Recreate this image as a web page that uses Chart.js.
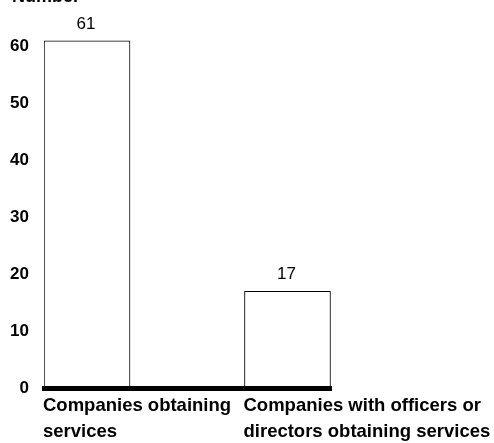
<!DOCTYPE html>
<html lang="en">
<head>
    <meta charset="UTF-8">
    <title>Number of companies</title>
    <script src="https://cdn.jsdelivr.net/npm/chart.js"></script>
    <style>
        html, body { margin: 0; padding: 0; background: #fff; }
        .chart-box { width: 494px; height: 443px; position: relative; }
    </style>
</head>
<body>
    <div class="chart-box">
        <canvas id="companyChart"></canvas>
    </div>

    <script>
        // Dados
        const categories = [
            ['Companies obtaining', 'services'],
            ['Companies with officers or', 'directors obtaining services']
        ];
        const counts = [61, 17];
        const yTicks = [0, 10, 20, 30, 40, 50, 60];
        const axisTitle = 'Number';

        const positions = categories.map((c, i) => i);

        // titulo do eixo e rótulos acima das barras
        const extras = {
            id: 'extras',
            afterDatasetsDraw(chart) {
                const ctx = chart.ctx;
                ctx.save();
                ctx.fillStyle = '#000';
                ctx.font = 'bold 18px "Liberation Sans", Arial, sans-serif';
                ctx.textAlign = 'left';
                ctx.textBaseline = 'alphabetic';
                ctx.fillText(axisTitle, 12, 2);

                ctx.font = '17px "Liberation Sans", Arial, sans-serif';
                ctx.textAlign = 'center';
                chart.getDatasetMeta(0).data.forEach((bar, i) => {
                    ctx.fillText(String(counts[i]), bar.x - 1, bar.y - 12);
                });
                ctx.restore();
            }
        };

        new Chart(document.getElementById('companyChart'), {
            type: 'bar',
            data: {
                datasets: [{
                    data: positions.map((p, i) => ({ x: p, y: counts[i] })),
                    backgroundColor: '#fff',
                    borderColor: '#000',
                    borderWidth: 1,
                    barThickness: 86
                }]
            },
            options: {
                responsive: true,
                maintainAspectRatio: false,
                animation: false,
                layout: { padding: { top: 18, right: 163, left: 0, bottom: 0 } },
                plugins: {
                    legend: { display: false },
                    tooltip: { enabled: false }
                },
                scales: {
                    x: {
                        type: 'linear',
                        offset: false,
                        min: -0.2145,
                        max: 1.217,
                        grid: { display: false, drawTicks: false, tickLength: 0 },
                        border: { display: true, color: '#000', width: 5, z: 1 },
                        afterBuildTicks: (scale) => {
                            scale.ticks = positions.map(p => ({ value: p }));
                        },
                        afterFit: (scale) => {
                            scale.paddingLeft = 0;
                            scale.paddingRight = 0;
                            scale.height = 55;
                        },
                        ticks: {
                            align: 'start',
                            labelOffset: -44,
                            padding: 4,
                            maxRotation: 0,
                            minRotation: 0,
                            autoSkip: false,
                            color: '#000',
                            font: { family: '"Liberation Sans", Arial, sans-serif', size: 18.5, weight: 'bold', lineHeight: 1.45 },
                            callback: (value, index) => categories[index]
                        }
                    },
                    y: {
                        min: 0,
                        max: 65,
                        grid: { display: false, drawTicks: false, tickLength: 0 },
                        border: { display: false },
                        afterBuildTicks: (scale) => {
                            scale.ticks = yTicks.map(v => ({ value: v }));
                        },
                        afterFit: (scale) => {
                            scale.width = 44;
                            scale.paddingTop = 0;
                            scale.paddingBottom = 0;
                        },
                        ticks: {
                            padding: 15,
                            color: '#000',
                            font: { family: '"Liberation Sans", Arial, sans-serif', size: 17, weight: 'bold' }
                        }
                    }
                }
            },
            plugins: [extras]
        });
    </script>
</body>
</html>
